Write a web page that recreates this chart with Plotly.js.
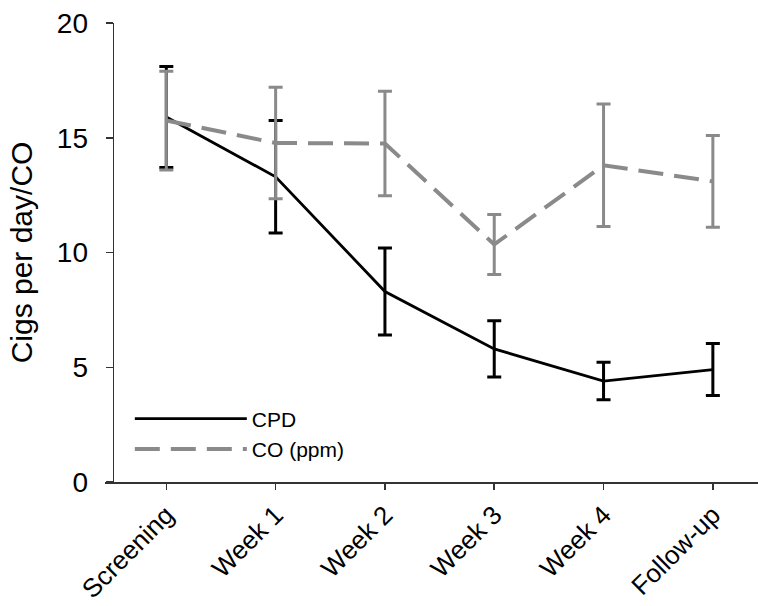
<!DOCTYPE html>
<html>
<head>
<meta charset="utf-8">
<script src="https://cdn.plot.ly/plotly-3.0.1.min.js"></script>
<style>html,body{margin:0;padding:0;background:#fff;}#chart{width:758px;height:606px;}</style>
</head>
<body>
<div id="chart"></div>
<script>
const categories = ['Screening', 'Week 1', 'Week 2', 'Week 3', 'Week 4', 'Follow-up'];
const cpdValues = [15.9, 13.3, 8.3, 5.8, 4.4, 4.9];
const cpdErrors = [2.2, 2.45, 1.9, 1.23, 0.82, 1.13];
const coValues = [15.75, 14.77, 14.75, 10.35, 13.8, 13.1];
const coErrors = [2.15, 2.43, 2.28, 1.31, 2.67, 2.0];
const yTickValues = [0, 5, 10, 15, 20];

const FONT = 'Arial, "Liberation Sans", sans-serif';

const traces = [
  {
    name: 'CPD', x: categories, y: cpdValues, type: 'scatter', mode: 'lines',
    line: {color: '#000000', width: 2.8},
    error_y: {type: 'data', array: cpdErrors, visible: true, color: '#000000', thickness: 3, width: 7}
  },
  {
    name: 'CO (ppm)', x: categories, y: coValues, type: 'scatter', mode: 'lines',
    line: {color: '#8a8a8a', width: 4, dash: '25px,11px'},
    error_y: {type: 'data', array: coErrors, visible: true, color: '#8a8a8a', thickness: 3, width: 7}
  }
];

const layout = {
  width: 758, height: 606,
  margin: {l: 105, r: 0, t: 23, b: 124},
  paper_bgcolor: '#ffffff', plot_bgcolor: '#ffffff',
  font: {family: FONT, color: '#000000', size: 27},
  showlegend: true,
  legend: {
    x: 0.038, y: 0.182, xanchor: 'left', yanchor: 'top',
    bgcolor: 'rgba(0,0,0,0)', font: {family: FONT, size: 21, color: '#000'},
    itemwidth: 112, tracegroupgap: 0
  },
  xaxis: {
    type: 'category', range: [-0.561, 5.413], domain: [0, 1],
    showline: true, linecolor: '#333', linewidth: 1.5,
    ticks: 'outside', ticklen: 6, tickcolor: '#333', tickwidth: 1.5,
    tickangle: -45, showgrid: false, zeroline: false,
    tickfont: {family: FONT, size: 26, color: '#000'}
  },
  yaxis: {
    range: [0, 20], tickvals: yTickValues, ticktext: yTickValues.map(String),
    anchor: 'free', position: 0.0116, automargin: true,
    showline: true, linecolor: '#333', linewidth: 1.5,
    ticks: 'outside', ticklen: 7, tickcolor: '#333', tickwidth: 1.5,
    showgrid: false, zeroline: false, ticklabelstandoff: 12,
    tickfont: {family: FONT, size: 28, color: '#000'},
    title: {text: 'Cigs per day/CO', standoff: 14, font: {family: FONT, size: 30, color: '#000'}}
  }
};

Plotly.newPlot('chart', traces, layout, {displayModeBar: false, staticPlot: true});
</script>
</body>
</html>
